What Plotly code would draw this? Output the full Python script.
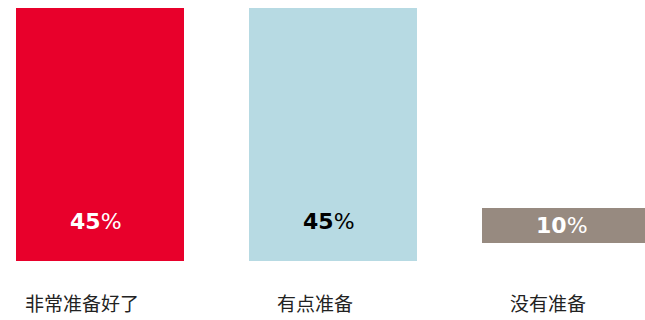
import plotly.graph_objects as go

# Survey answers and their shares (percent)
categories = ["非常准备好了", "有点准备", "没有准备"]
values = [45, 45, 10]
colors = ["#E8002B", "#B7DAE3", "#978A80"]
label_colors = ["#FFFFFF", "#000000", "#FFFFFF"]

fig = go.Figure()

# The two large bars share the primary axis
fig.add_trace(go.Bar(
    x=categories[:2], y=values[:2],
    marker=dict(color=colors[:2], line=dict(width=0)),
    width=0.721, hoverinfo="skip", yaxis="y",
))
# The small bar floats on its own scale
fig.add_trace(go.Bar(
    x=categories[2:], y=values[2:],
    marker=dict(color=colors[2:], line=dict(width=0)),
    width=0.721, hoverinfo="skip", yaxis="y2",
))

annotations = []
for i, (cat, v) in enumerate(zip(categories, values)):
    if i < 2:
        yref, ypos = "y", 7.1
    else:
        yref, ypos = "y2", v / 2
    annotations.append(dict(
        x=cat, y=ypos, xref="x", yref=yref,
        text=f"<b>{v}</b>%", showarrow=False,
        xshift=-4,
        font=dict(family="DejaVu Sans", size=22, color=label_colors[i]),
        xanchor="center", yanchor="middle",
    ))
    annotations.append(dict(
        x=cat, y=0, xref="x", yref="paper",
        text=cat, showarrow=False,
        xshift=-18, yshift=-41,
        font=dict(family="Noto Sans CJK SC", size=19, color="#222222"),
        xanchor="center", yanchor="middle",
    ))

fig.update_layout(
    width=645, height=320,
    margin=dict(l=0, r=0, t=8, b=59, pad=0),
    paper_bgcolor="white", plot_bgcolor="white",
    showlegend=False,
    barmode="overlay",
    xaxis=dict(type="category", categoryorder="array", categoryarray=categories,
               range=[-100 / 233, 545 / 233], showticklabels=False,
               showgrid=False, zeroline=False, showline=False, ticks=""),
    yaxis=dict(range=[0, 45], visible=False, showgrid=False, zeroline=False),
    yaxis2=dict(range=[-18 / 3.5, 235 / 3.5], overlaying="y", visible=False,
                showgrid=False, zeroline=False),
    annotations=annotations,
)

fig.write_html("out.html", config={"displayModeBar": False})
